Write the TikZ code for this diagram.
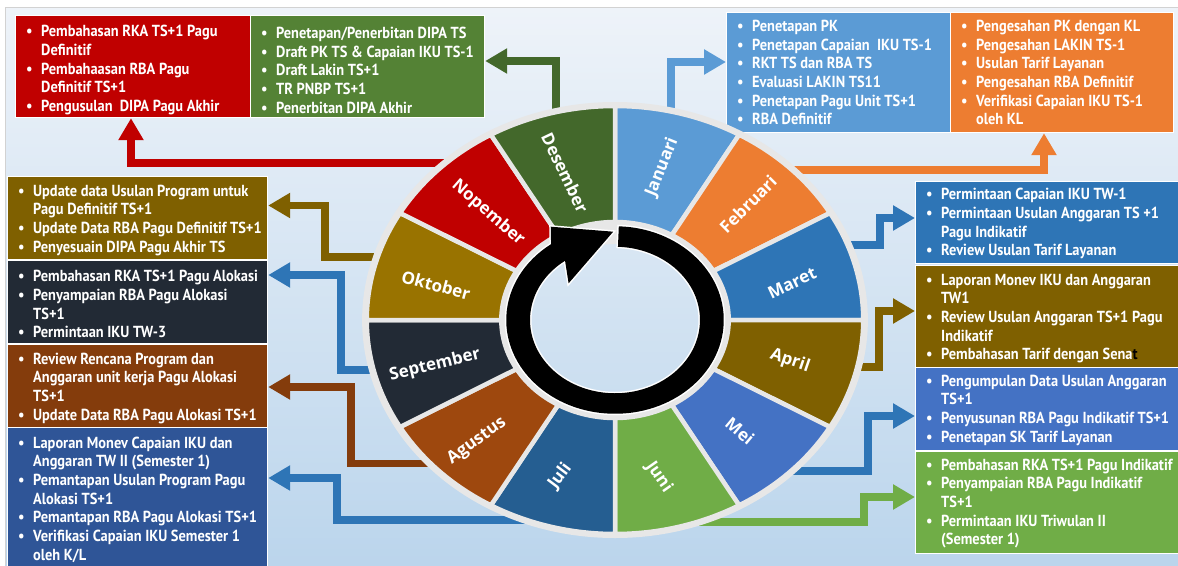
\documentclass[tikz,border=0pt]{standalone}
\usepackage{fontspec}
\usetikzlibrary{arrows.meta}
\newfontfamily\boxfont{PT Sans}[FakeStretch=0.90]
\newfontfamily\monfont{Open Sans}
\definecolor{cJan}{HTML}{5B9BD5}
\definecolor{cFeb}{HTML}{ED7D31}
\definecolor{cMar}{HTML}{2E75B6}
\definecolor{cApr}{HTML}{7F6000}
\definecolor{cMei}{HTML}{4472C4}
\definecolor{cJun}{HTML}{70AD47}
\definecolor{cJul}{HTML}{255E91}
\definecolor{cAgu}{HTML}{9E480E}
\definecolor{cSep}{HTML}{222A35}
\definecolor{cOkt}{HTML}{997300}
\definecolor{cNov}{HTML}{C00000}
\definecolor{cDes}{HTML}{43682B}
\definecolor{bxDes}{HTML}{548235}
\definecolor{bxJul}{HTML}{2F5597}
\definecolor{bxAgu}{HTML}{843C0C}
\definecolor{bxOkt}{HTML}{7F6000}
\definecolor{arBlue}{HTML}{2E75B6}
\definecolor{gapc}{HTML}{E7E7E7}
\definecolor{bgtop}{HTML}{EEF3F9}
\definecolor{bgbot}{HTML}{BBD5EC}
\newcommand{\bul}{\makebox[15pt][l]{\textbullet}}
\newcommand{\nxl}{\\\hspace*{15pt}}
\tikzset{
  boxs/.style={draw=white, line width=1.2pt, anchor=north west, inner sep=0pt},
  txt/.style={anchor=west, inner sep=0pt, align=left, text=white,
    font=\boxfont\bfseries\fontsize{16}{18.7}\selectfont},
  conn/.style={line width=7.5pt, -{Triangle[length=22pt,width=24pt]}},
  mon/.style={text=white, inner sep=0pt, font=\monfont\bfseries\fontsize{17}{18}\selectfont},
  seg/.style={draw=gapc, line width=4.5pt},
}
\begin{document}
\begin{tikzpicture}[x=1pt,y=-1pt]
\useasboundingbox (0,0) rectangle (1178,565);
\clip (0,0) rectangle (1178,565);
% background
\fill[white] (0,0) rectangle (1178,565);
\shade[top color=bgtop, bottom color=bgbot] (5,7) rectangle (1178,565);
\draw[gray!35, line width=0.8pt] (5,565) -- (5,7) -- (1178,7);

% boxes
\node[boxs, fill=cNov, minimum width=235pt, minimum height=102pt] (bNov) at (15,15) {};
\node[boxs, fill=bxDes, minimum width=234pt, minimum height=102pt] (bDes) at (250,15) {};
\node[boxs, fill=cJan, minimum width=224pt, minimum height=120pt] (bJan) at (726,12) {};
\node[boxs, fill=cFeb, minimum width=223pt, minimum height=120pt] (bFeb) at (950,12) {};
\node[boxs, fill=cMar, minimum width=270pt, minimum height=82pt] (bMar) at (915,181) {};
\node[boxs, fill=cApr, minimum width=270pt, minimum height=102pt] (bApr) at (915,265) {};
\node[boxs, fill=cMei, minimum width=270pt, minimum height=83pt] (bMei) at (915,367) {};
\node[boxs, fill=cJun, minimum width=270pt, minimum height=102pt] (bJun) at (915,451) {};
\node[boxs, fill=bxOkt, minimum width=260pt, minimum height=83pt] (bOkt) at (7,176) {};
\node[boxs, fill=cSep, minimum width=260pt, minimum height=83pt] (bSep) at (7,260) {};
\node[boxs, fill=bxAgu, minimum width=260pt, minimum height=83pt] (bAgu) at (7,344) {};
\node[boxs, fill=bxJul, minimum width=260pt, minimum height=140pt] (bJul) at (7,427) {};

% box texts
\node[txt] (tNov) at ([xshift=11pt,yshift=-3.5pt]bNov.west) {\bul Pembahasan RKA TS+1 Pagu\nxl Definitif\\
\bul Pembahaasan RBA Pagu\nxl Definitif TS+1\\
\bul Pengusulan\ \ DIPA Pagu Akhir};
\node[txt] (tDes) at ([xshift=11pt,yshift=-3.5pt]bDes.west) {\bul Penetapan/Penerbitan DIPA TS\\
\bul Draft PK TS \& Capaian IKU TS-1\\
\bul Draft Lakin TS+1\\
\bul TR PNBP TS+1\\
\bul Penerbitan DIPA Akhir};
\node[txt] (tJan) at ([xshift=11pt]bJan.west) {\bul Penetapan PK\\
\bul Penetapan Capaian\ \ IKU TS-1\\
\bul RKT TS dan RBA TS\\
\bul Evaluasi LAKIN TS11\\
\bul Penetapan Pagu Unit TS+1\\
\bul RBA Definitif};
\node[txt] (tFeb) at ([xshift=11pt]bFeb.west) {\bul Pengesahan PK dengan KL\\
\bul Pengesahan LAKIN TS-1\\
\bul Usulan Tarif Layanan\\
\bul Pengesahan RBA Definitif\\
\bul Verifikasi Capaian IKU TS-1\nxl oleh KL};
\node[txt] (tMar) at ([xshift=11pt,yshift=-1pt]bMar.west) {\bul Permintaan Capaian IKU TW-1\\
\bul Permintaan Usulan Anggaran TS +1\nxl Pagu Indikatif\\
\bul Review Usulan Tarif Layanan};
\node[txt] (tApr) at ([xshift=11pt,yshift=-2pt]bApr.west) {\bul Laporan Monev IKU dan Anggaran\nxl TW1\\
\bul Review Usulan Anggaran TS+1 Pagu\nxl Indikatif\\
\bul Pembahasan Tarif dengan Sena\textcolor{black}{t}};
\node[txt] (tMei) at ([xshift=11pt,yshift=-1pt]bMei.west) {\bul Pengumpulan Data Usulan Anggaran\nxl TS+1\\
\bul Penyusunan RBA Pagu Indikatif TS+1\\
\bul Penetapan SK Tarif Layanan};
\node[txt] (tJun) at ([xshift=11pt,yshift=-1pt]bJun.west) {\bul Pembahasan RKA TS+1 Pagu Indikatif\\
\bul Penyampaian RBA Pagu Indikatif\nxl TS+1\\
\bul Permintaan IKU Triwulan II\nxl (Semester 1)};
\node[txt] (tOkt) at ([xshift=11pt,yshift=-2pt]bOkt.west) {\bul Update data Usulan Program untuk\nxl Pagu Definitif TS+1\\
\bul Update Data RBA Pagu Definitif TS+1\\
\bul Penyesuain DIPA Pagu Akhir TS};
\node[txt] (tSep) at ([xshift=11pt,yshift=-2pt]bSep.west) {\bul Pembahasan RKA TS+1 Pagu Alokasi\\
\bul Penyampaian RBA Pagu Alokasi\nxl TS+1\\
\bul Permintaan IKU TW-3};
\node[txt] (tAgu) at ([xshift=11pt,yshift=-2pt]bAgu.west) {\bul Review Rencana Program dan\nxl Anggaran unit kerja Pagu Alokasi\nxl TS+1\\
\bul Update Data RBA Pagu Alokasi TS+1};
\node[txt] (tJul) at ([xshift=11pt,yshift=-2pt]bJul.west) {\bul Laporan Monev Capaian IKU dan\nxl Anggaran TW II (Semester 1)\\
\bul Pemantapan Usulan Program Pagu\nxl Alokasi TS+1\\
\bul Pemantapan RBA Pagu Alokasi TS+1\\
\bul Verifikasi Capaian IKU Semester 1\nxl oleh K/L};

% connector points
\coordinate (sNov) at (470,163);   \coordinate (kNov) at (131,163);
\coordinate (sDes) at (556,140);   \coordinate (kDes) at (556,61);
\coordinate (sJan) at (671,140);   \coordinate (kJan) at (671,62);
\coordinate (sFeb) at (770,170);   \coordinate (kFeb) at (1044,170);
\coordinate (sMar) at (835,245);   \coordinate (kMar) at (880,218);
\coordinate (sApr) at (845,367);   \coordinate (kApr) at (879,311);
\coordinate (sMei) at (780,471);   \coordinate (kMei) at (868,416);
\coordinate (sJun) at (660,522);   \coordinate (kJun) at (864,497);
\coordinate (sJul) at (560,520);   \coordinate (kJul) at (337,478);
\coordinate (sAgu) at (460,463.5); \coordinate (kAgu) at (351,387);
\coordinate (sSep) at (385,370);   \coordinate (kSep) at (341,275);
\coordinate (sOkt) at (395,257);   \coordinate (kOkt) at (325,205.5);

% connectors
\draw[conn, cNov] (sNov) -- (kNov) -- (kNov |- bNov.south);
\draw[conn, cDes] (sDes) -- (kDes) -- (kDes -| bDes.east);
\draw[conn, cJan] (sJan) -- (kJan) -- (kJan -| bJan.west);
\draw[conn, cFeb] (sFeb) -- (kFeb) -- (kFeb |- bFeb.south);
\draw[conn, arBlue] (sMar) -| (kMar) -- (kMar -| bMar.west);
\draw[conn, cApr] (sApr) -| (kApr) -- (kApr -| bApr.west);
\draw[conn, arBlue] (sMei) -| (kMei) -- (kMei -| bMei.west);
\draw[conn, cJun] (sJun) -| (kJun) -- (kJun -| bJun.west);
\draw[conn, arBlue] (sJul) -| (kJul) -- (kJul -| bJul.east);
\draw[conn, bxAgu] (sAgu) -| (kAgu) -- (kAgu -| bAgu.east);
\draw[conn, arBlue] (sSep) -| (kSep) -- (kSep -| bSep.east);
\draw[conn, bxOkt] (sOkt) -| (kOkt) -- (kOkt -| bOkt.east);

% wheel
\begin{scope}[shift={(615,320)}, xscale=1.16, yscale=-1]
  \fill[gapc, even odd rule] (0,0) circle[radius=218] (0,0) circle[radius=76];
  \foreach \a/\b/\c in {90/60/cJan, 60/30/cFeb, 30/0/cMar, 0/-30/cApr, -30/-60/cMei,
     -60/-90/cJun, -90/-120/cJul, -120/-150/cAgu, -150/-180/cSep, 180/150/cOkt,
     150/120/cNov, 120/90/cDes}
    \filldraw[seg, fill=\c] (\a:98) -- (\a:214) arc[start angle=\a, end angle=\b, radius=214]
      -- (\b:98) arc[start angle=\b, end angle=\a, radius=98] -- cycle;
  \fill[black, preaction={draw=white, line width=3pt}]
    (88:93.75) arc[start angle=88, end angle=-234, radius=93.75]
    -- (-55.4,93.3) -- (-1.55,88.3) -- (-40,36.7)
    -- (-234:73.25) arc[start angle=-234, end angle=88, radius=73.25] -- cycle;
\end{scope}

% month labels
\node[mon, rotate=68]    (mJan) at (662,167) {Januari};
\node[mon, rotate=45]    (mFeb) at (748,204) {Februari};
\node[mon, rotate=25]    (mMar) at (792,283) {Maret};
\node[mon, rotate=-19]   (mApr) at (790,361) {April};
\node[mon, rotate=-40]   (mMei) at (740,431) {Mei};
\node[mon, rotate=-55]   (mJun) at (659,477) {Juni};
\node[mon, rotate=53]    (mJul) at (560,476) {Juli};
\node[mon, rotate=36]    (mAgu) at (477,441) {Agustus};
\node[mon, rotate=13.6]  (mSep) at (435,365) {September};
\node[mon, rotate=-15]   (mOkt) at (436,285) {Oktober};
\node[mon, rotate=-41]   (mNov) at (488,213) {Nopember};
\node[mon, rotate=-64.5] (mDes) at (565,173) {Desember};
\end{tikzpicture}
\end{document}
